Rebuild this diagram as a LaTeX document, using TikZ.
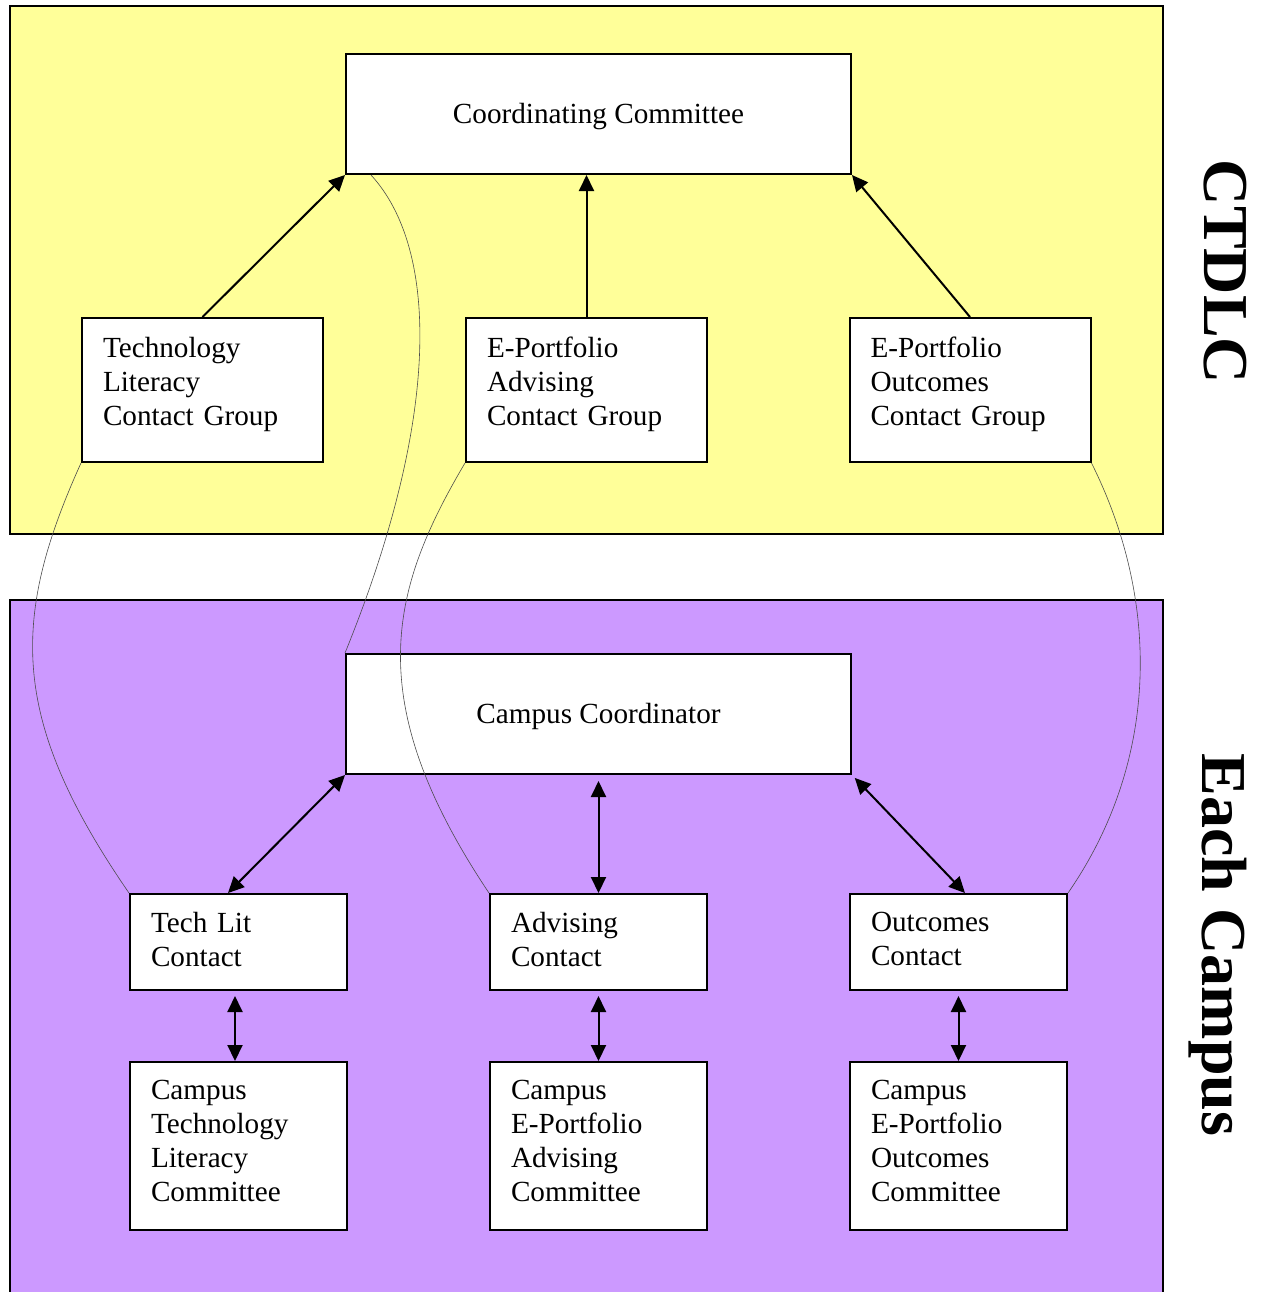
\documentclass[tikz,border=0pt]{standalone}
\usepackage{fontspec}
\setmainfont{Liberation Serif}
\usetikzlibrary{arrows.meta}
\definecolor{ctyellow}{HTML}{FFFF99}
\definecolor{cmpurple}{HTML}{CC99FF}

\begin{document}
\begin{tikzpicture}[x=0.5pt, y=-0.5pt,
        box/.style={draw=black, line width=1pt, fill=white, font=\fontsize{14.6}{17}\selectfont},
        wide/.style={box, minimum width=252.5pt, minimum height=60pt, text height=13pt},
        group/.style={box, minimum width=120.5pt, minimum height=72pt, text width=99.5pt, align=left, inner xsep=10.5pt,
            execute at end node={\rule[-9pt]{0pt}{9pt}}},
        contact/.style={box, minimum width=108.5pt, minimum height=48pt, text width=87.5pt, align=left, inner xsep=10.5pt,
            execute at end node={\rule[-3pt]{0pt}{3pt}}},
        cttee/.style={contact, minimum height=84pt, execute at end node={\rule[-5pt]{0pt}{5pt}}},
        link/.style={line width=1pt, -{Triangle[length=8pt,width=7.5pt]}},
        both/.style={line width=1pt, {Triangle[length=8pt,width=7.5pt]}-{Triangle[length=8pt,width=7.5pt]}},
        thread/.style={black!70, line width=0.3pt},
        side/.style={rotate=-90, font=\fontsize{32}{38}\selectfont\bfseries}]
        \useasboundingbox (0,0) rectangle (1261,1292);
        % the two areas
        \draw[fill=ctyellow, line width=1pt] (10,6) rectangle (1163,534);
        \fill[cmpurple] (10,600) rectangle (1163,1300);
        \draw[line width=1pt] (10,1300) -- (10,600) -- (1163,600) -- (1163,1300);
        \node[side] (ctdlc) at (1225,272) {CTDLC};
        \node[side] (each) at (1218,945) {Each Campus};
        % CTDLC
        \node[wide] (coord) at (598.5,114) {Coordinating Committee};
        \node[group] (techgrp) at (202.5,390) {Technology\\Literacy\\Contact Group};
        \node[group] (advgrp) at (586.5,390) {E-Portfolio\\Advising\\Contact Group};
        \node[group] (outgrp) at (970,390) {E-Portfolio\\Outcomes\\Contact Group};
        \draw[link] (techgrp.north) -- (coord.south west);
        \draw[link] (advgrp.north) -- (advgrp.north |- coord.south);
        \draw[link] (outgrp.north) -- (coord.south east);
        % each campus
        \node[wide] (campus) at (598.5,714) {Campus Coordinator};
        \node[contact] (techcon) at (238.5,942) {Tech Lit\\Contact};
        \node[contact] (advcon) at (598.5,942) {Advising\\Contact};
        \node[contact] (outcon) at (958.5,942) {Outcomes\\Contact};
        \node[cttee] (techcom) at (238.5,1146) {Campus\\Technology\\Literacy\\Committee};
        \node[cttee] (advcom) at (598.5,1146) {Campus\\E-Portfolio\\Advising\\Committee};
        \node[cttee] (outcom) at (958.5,1146) {Campus\\E-Portfolio\\Outcomes\\Committee};
        \draw[both] ([xshift=-5.25pt]techcon.north) -- (campus.south west);
        \draw[both, shorten <=3pt] (campus.south) -- (advcon.north);
        \draw[both, shorten <=2pt] (campus.south east) -- ([xshift=3.25pt]outcon.north);
        \draw[both, shorten <=2.5pt] ([xshift=-1.75pt]techcon.south) -- ([xshift=-1.75pt]techcom.north);
        \draw[both, shorten <=2.5pt] (advcon.south) -- (advcom.north);
        \draw[both, shorten <=2.5pt] (outcon.south) -- (outcom.north);
        % thin links between the two levels
        \draw[thread] (techgrp.south west) .. controls (10,620) and (10,720) .. (techcon.north west);
        \draw[thread] ([xshift=13pt]coord.south west) .. controls (440,250) and (440,420) .. (campus.north west);
        \draw[thread] (advgrp.south west) .. controls (390,590) and (360,700) .. (advcon.north west);
        \draw[thread] (outgrp.south east) .. controls (1160,600) and (1160,760) .. (outcon.north east);
\end{tikzpicture}
\end{document}
